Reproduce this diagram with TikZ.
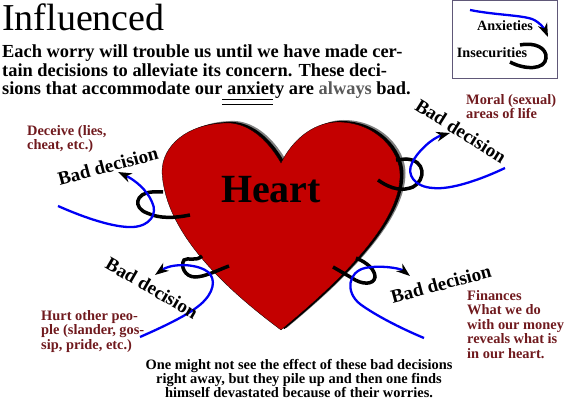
\documentclass[tikz,border=0pt]{standalone}
\usepackage{fontspec}
\setmainfont{Liberation Serif}
\usetikzlibrary{arrows.meta}
\definecolor{hc}{RGB}{196,0,0}
\definecolor{lc}{RGB}{112,26,30}
\definecolor{wc}{RGB}{0,0,245}
\definecolor{fc}{RGB}{96,88,120}
\tikzset{worry/.style={draw=wc,line width=2.3pt},
 arr/.style={worry,-{Stealth[length=4.8mm,width=3.4mm,inset=1.5mm,color=black]}},
 hook/.style={draw=black,line width=3.5pt},
 bad/.style={font=\bfseries\fontsize{19}{19}\selectfont,inner sep=0pt},
 lab/.style={font=\bfseries\fontsize{14.4}{14.5}\selectfont,text=lc,align=left,inner sep=0pt,anchor=north west},
 key/.style={font=\bfseries\fontsize{14.2}{14}\selectfont,inner sep=0pt},
 body/.style={font=\bfseries\fontsize{18.4}{18.3}\selectfont,align=left,inner sep=0pt,anchor=north west}}
\newcommand{\heartpath}{(281,163) .. controls (295,135) and (318,122) .. (338,122) .. controls (375,122) and (400,150) .. (400,175) .. controls (400,215) and (360,265) .. (281,330) .. controls (230,292) and (165,235) .. (162,172) .. controls (162,145) and (188,124) .. (225,123) .. controls (240,122) and (262,130) .. (281,163) -- cycle}
\begin{document}
\begin{tikzpicture}[x=1pt,y=-1pt]
\useasboundingbox (0,0) rectangle (566,403);
% title and text
\node[font=\fontsize{38}{38}\selectfont,inner sep=0pt,anchor=base west] (title) at (2,31) {Influenced};
\node[body] (intro) at (2,45) {Each worry will trouble us until we have made cer-\\tain decisions to alleviate its concern. These deci-\\sions that accommodate our anxiety are {\color{black!65}always} bad.};
\draw[line width=.7pt] (222,99) -- (273,99) (222,104) -- (273,104);
% heart
\fill[gray,shift={(5.5,-2)}] \heartpath;
\fill[black,shift={(3.5,-1)}] \heartpath;
\draw[fill=hc,line width=.3pt] \heartpath;
\node[font=\bfseries\fontsize{40}{40}\selectfont,inner sep=0pt] (heart) at (271,190) {Heart};
% upper left
\draw[hook] (163,192) -- (152,192) .. controls (135,193) and (133,208) .. (147,213) .. controls (160,219) and (175,218) .. (190,215);
\draw[arr] (58,206) .. controls (85,218) and (115,228) .. (133,227) .. controls (150,226) and (158,214) .. (152,202) .. controls (147,190) and (135,180) .. (118,172);
\node[bad,rotate=15] (badul) at (108,166) {Bad decision};
\node[lab] (deceive) at (27,125) {Deceive (lies,\\cheat, etc.)};
% upper right
\draw[hook] (378,180) .. controls (392,190) and (403,191) .. (413,187) .. controls (426,180) and (426,160) .. (406,159) -- (396,160);
\draw[arr] (505,168) .. controls (480,180) and (450,190) .. (433,188) .. controls (415,187) and (406,175) .. (412,163) .. controls (417,152) and (432,138) .. (450,133);
\node[bad,rotate=-32] (badur) at (461,131) {Bad decision};
\node[lab] (moral) at (466,94) {Moral (sexual)\\areas of life};
% lower left
\draw[hook] (202,256) .. controls (196,262) and (188,257) .. (184,260) .. controls (180,266) and (185,277) .. (195,277) .. controls (205,277) and (218,270) .. (229,266);
\draw[arr] (140,337) .. controls (165,326) and (195,312) .. (205,300) .. controls (216,288) and (215,275) .. (205,270) .. controls (192,263) and (170,264) .. (155,275);
\node[bad,rotate=-30] (badll) at (152,288) {Bad decision};
\node[lab] (hurt) at (41,310) {Hurt other peo-\\ple (slander, gos-\\sip, pride, etc.)};
% lower right
\draw[hook] (356,258) .. controls (368,263) and (375,270) .. (375,277) .. controls (374,285) and (362,285) .. (352,278) -- (333,267);
\draw[arr] (424,338) .. controls (400,328) and (375,315) .. (360,304) .. controls (345,292) and (348,272) .. (365,268) .. controls (380,265) and (400,268) .. (410,276);
\node[bad,rotate=15] (badlr) at (441,284) {Bad decision};
\node[lab] (finances) at (467,290) {Finances\\What we do\\with our money\\reveals what is\\in our heart.};
% closing text
\node[font=\bfseries\fontsize{14.4}{14}\selectfont,align=center,inner sep=0pt] (closing) at (299,379) {One might not see the effect of these bad decisions\\right away, but they pile up and then one finds\\himself devastated because of their worries.};
% legend
\node[draw=fc,line width=1pt,minimum width=105pt,minimum height=78pt,inner sep=0pt] (legend) at (505,40) {};
\draw[arr] (470,10) .. controls (495,15) and (520,15) .. (532,19) .. controls (540,22) and (545,30) .. (548,37);
\node[key] (anx) at (505,26) {Anxieties};
\draw[hook] (520,45) .. controls (535,42) and (547,48) .. (546,58) .. controls (545,70) and (525,70) .. (510,62);
\node[key] (insec) at (492,53) {Insecurities};
\end{tikzpicture}
\end{document}
